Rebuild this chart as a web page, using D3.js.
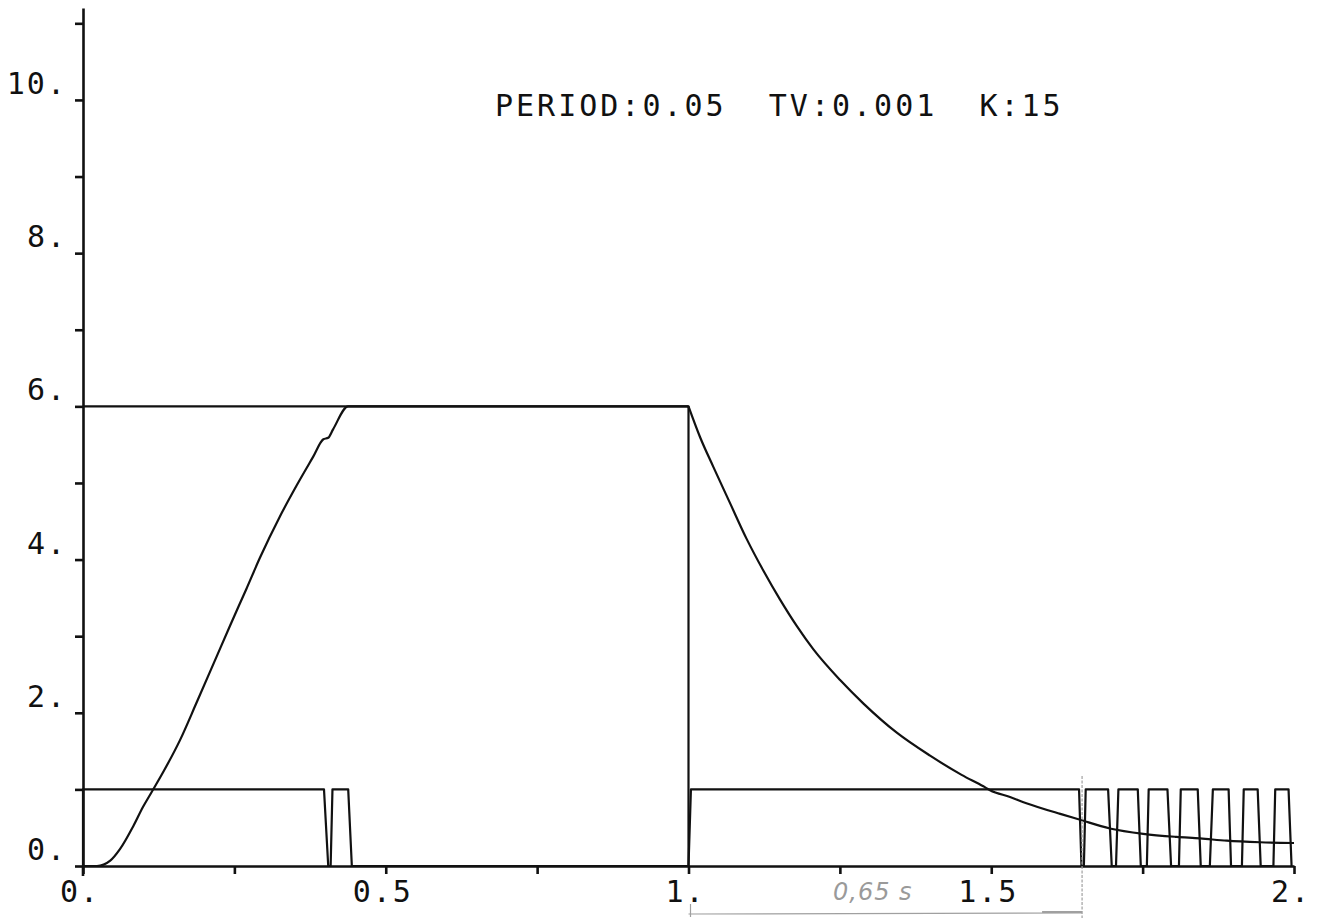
<!DOCTYPE html>
<html>
<head>
<meta charset="utf-8">
<script src="https://cdn.jsdelivr.net/npm/d3@7"></script>
<style>
  body { margin: 0; background: #fff; }
  .lbl { font-family: "DejaVu Sans Mono", monospace; font-size: 30px; fill: #111; letter-spacing: 2px; }
  .title { letter-spacing: 3px; }
  .note { font-family: "DejaVu Sans", sans-serif; font-style: italic; font-size: 24px; fill: #9a9a9a; letter-spacing: 1px; }
</style>
</head>
<body>
<div id="chart"></div>
<script>
// speed curve: [time s, value]
const speedRise = [
  [0, 0], [0.023, 0.0], [0.045, 0.07], [0.061, 0.22], [0.083, 0.52], [0.099, 0.77],
  [0.113, 0.96], [0.132, 1.22], [0.160, 1.64], [0.188, 2.14], [0.221, 2.74], [0.243, 3.14],
  [0.270, 3.62], [0.292, 4.02], [0.325, 4.56], [0.353, 4.97], [0.380, 5.34], [0.397, 5.57],
  [0.405, 5.59], [0.413, 5.70], [0.438, 6.0], [1.0, 6.0]
];
const speedDecay = [
  [1.0, 6.0], [1.019, 5.60], [1.041, 5.21], [1.069, 4.73], [1.096, 4.27], [1.124, 3.85],
  [1.151, 3.48], [1.179, 3.13], [1.206, 2.83], [1.250, 2.43], [1.289, 2.12], [1.344, 1.74],
  [1.399, 1.44], [1.451, 1.19], [1.487, 1.04], [1.498, 0.99], [1.531, 0.90], [1.558, 0.82],
  [1.614, 0.68], [1.644, 0.61], [1.696, 0.49], [1.751, 0.42], [1.806, 0.38], [1.845, 0.36],
  [1.889, 0.33], [1.944, 0.31], [2.0, 0.30]
];
// reference value
const setpoint = [[0, 6], [1.0, 6], [1.0, 0]];
// switching signal
const switchLeft = [
  [0, 0], [0, 1], [0.398, 1], [0.405, 0], [0.409, 0], [0.412, 1], [0.438, 1], [0.444, 0], [1.0, 0]
];
const switchRight = [
  [1.0, 0], [1.004, 1], [1.645, 1], [1.649, 0], [1.653, 0], [1.656, 1], [1.693, 1], [1.699, 0],
  [1.706, 0], [1.710, 1], [1.742, 1], [1.747, 0], [1.757, 0], [1.760, 1], [1.791, 1], [1.797, 0],
  [1.810, 0], [1.813, 1], [1.841, 1], [1.846, 0], [1.861, 0], [1.866, 1], [1.892, 1], [1.896, 0],
  [1.914, 0], [1.917, 1], [1.940, 1], [1.945, 0], [1.966, 0], [1.969, 1], [1.991, 1], [1.996, 0]
];

const xTicks = [0, 0.25, 0.5, 0.75, 1, 1.25, 1.5, 1.75, 2];
const xLabelValues = [0, 0.5, 1, 1.5, 2];
const xLabels = ["0.", "0.5", "1.", "1.5", "2."];
const yTicks = [0, 1, 2, 3, 4, 5, 6, 7, 8, 9, 10, 11];
const yLabelValues = [0, 2, 4, 6, 8, 10];
const yLabels = ["0.", "2.", "4.", "6.", "8.", "10."];

const title = "PERIOD:0.05  TV:0.001  K:15";
const noteText = "0,65 s";
const noteRange = [1.0, 1.65];

class PlotVis {
  constructor(_parentElement) {
    this.parentElement = _parentElement;
    this.initVis();
  }

  initVis() {
    let vis = this;
    vis.width = 1320;
    vis.height = 919;

    vis.svg = d3.select("#" + vis.parentElement)
      .append("svg")
      .attr("width", vis.width)
      .attr("height", vis.height)
      .style("background", "#fff");

    // scales
    vis.x = d3.scaleLinear().domain([0, 2]).range([83, 1294]);
    vis.y = d3.scaleLinear().domain([0, 11.2]).range([866, 8]);

    // plotter traces: straight steps for the signals, smooth for the speed
    vis.line = d3.line()
      .x(d => vis.x(d[0]))
      .y(d => vis.y(d[1]));
    vis.smooth = d3.line()
      .curve(d3.curveMonotoneX)
      .x(d => vis.x(d[0]))
      .y(d => vis.y(d[1]));

    vis.updateVis();
  }

  updateVis() {
    let vis = this;

    // axes
    const xAxis = vis.svg.append("g")
      .attr("transform", `translate(0, ${vis.y(0)})`)
      .call(d3.axisBottom(vis.x).tickValues(xTicks).tickSize(8).tickSizeOuter(0).tickFormat(""));
    const yAxis = vis.svg.append("g")
      .attr("transform", `translate(${vis.x(0)}, 0)`)
      .call(d3.axisLeft(vis.y).tickValues(yTicks).tickSize(8).tickSizeOuter(0).tickFormat(""));

    [xAxis, yAxis].forEach(a => {
      a.selectAll("path, line").attr("stroke", "#111").attr("stroke-width", 2.6);
    });

    // y axis runs a bit below the x axis
    vis.svg.append("line")
      .attr("x1", vis.x(0)).attr("x2", vis.x(0))
      .attr("y1", vis.y(0)).attr("y2", vis.y(0) + 10)
      .attr("stroke", "#111").attr("stroke-width", 2.6);

    // tick labels
    vis.svg.selectAll(".xlbl")
      .data(xLabelValues)
      .enter().append("text")
      .attr("class", "lbl xlbl")
      .attr("x", d => vis.x(d) - 3)
      .attr("y", vis.y(0) + 36)
      .attr("text-anchor", "middle")
      .text((d, i) => xLabels[i]);

    vis.svg.selectAll(".ylbl")
      .data(yLabelValues)
      .enter().append("text")
      .attr("class", "lbl ylbl")
      .attr("x", 67)
      .attr("y", d => vis.y(d) - 6)
      .attr("text-anchor", "end")
      .text((d, i) => yLabels[i]);

    // title
    vis.svg.append("text")
      .attr("class", "lbl title")
      .attr("x", 495)
      .attr("y", 116)
      .attr("xml:space", "preserve")
      .style("white-space", "pre")
      .text(title);

    // signal traces
    vis.svg.selectAll(".trace")
      .data([setpoint, switchLeft, switchRight])
      .enter().append("path")
      .attr("class", "trace")
      .attr("fill", "none")
      .attr("stroke", "#111")
      .attr("stroke-width", 2.2)
      .attr("stroke-linejoin", "round")
      .attr("d", vis.line);

    // speed traces
    vis.svg.selectAll(".speed")
      .data([speedRise, speedDecay])
      .enter().append("path")
      .attr("class", "speed")
      .attr("fill", "none")
      .attr("stroke", "#111")
      .attr("stroke-width", 2.2)
      .attr("stroke-linejoin", "round")
      .attr("d", vis.smooth);

    // hand drawn annotation
    const note = vis.svg.append("g").attr("stroke", "#a0a0a0").attr("stroke-width", 1.2);
    note.append("line")
      .attr("x1", vis.x(noteRange[0])).attr("x2", vis.x(noteRange[1]))
      .attr("y1", 914).attr("y2", 913);
    note.append("line")
      .attr("x1", vis.x(noteRange[0]) + 2).attr("x2", vis.x(noteRange[0]) + 2)
      .attr("y1", 904).attr("y2", 917);
    note.append("line")
      .attr("x1", vis.x(noteRange[1])).attr("x2", vis.x(noteRange[1]))
      .attr("y1", 776).attr("y2", 918)
      .attr("stroke-dasharray", "3,1.5");
    note.append("line")
      .attr("x1", vis.x(noteRange[1]) - 40).attr("x2", vis.x(noteRange[1]))
      .attr("y1", 912).attr("y2", 912)
      .attr("stroke-width", 2);

    vis.svg.append("text")
      .attr("class", "note")
      .attr("x", 833)
      .attr("y", 900)
      .text(noteText);
  }
}

new PlotVis("chart");
</script>
</body>
</html>
